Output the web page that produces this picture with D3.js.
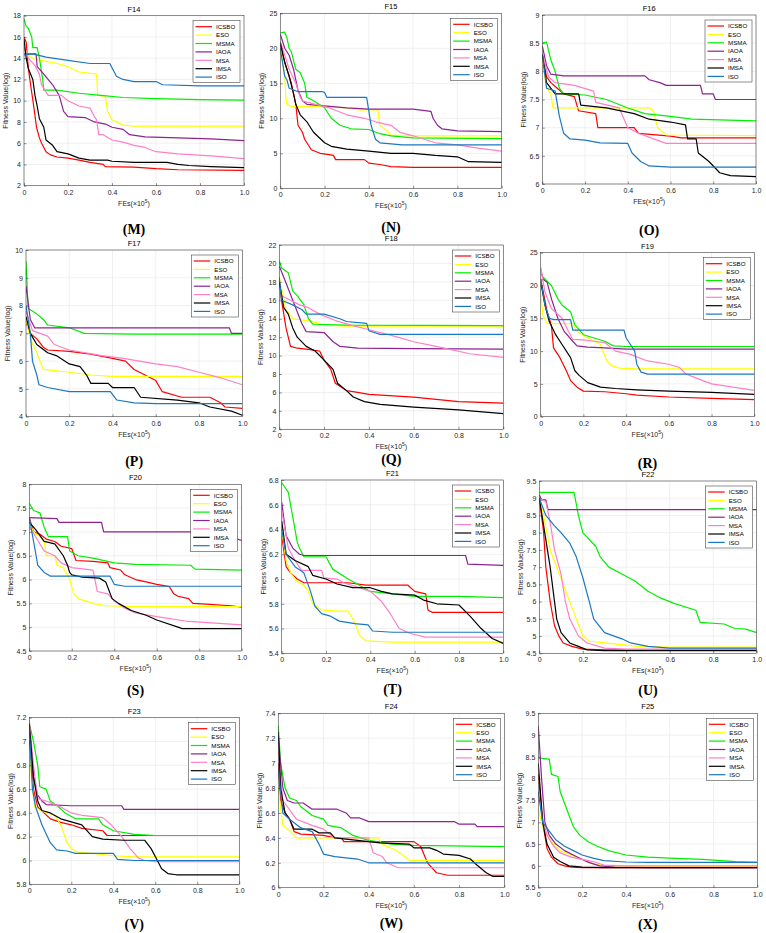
<!DOCTYPE html>
<html><head><meta charset="utf-8">
<script src="https://cdn.jsdelivr.net/npm/d3@7"></script>
<style>body{margin:0;background:#fff}svg{display:block}</style>
</head><body><svg id="c" width="766" height="933"></svg>
<script>
// ---------- DATA ----------
const algorithms = ["ICSBO","ESO","MSMA","IAOA","MSA","IMSA","ISO"];
const colors = ["#ff0000","#ffff00","#00ee00","#8b2391","#ff7fc6","#000000","#1a78c2"];
const xTickValues = [0,0.2,0.4,0.6,0.8,1.0];
const xTickLabels = ["0","0.2","0.4","0.6","0.8","1.0"];
const functionNames = ["F14","F15","F16","F17","F18","F19","F20","F21","F22","F23","F24","F25"];
const panelLetters = ["(M)","(N)","(O)","(P)","(Q)","(R)","(S)","(T)","(U)","(V)","(W)","(X)"];
const yTicksF14 = [2,4,6,8,10,12,14,16,18];
const yTicksF15 = [0,5,10,15,20,25];
const yTicksF16 = [6,6.5,7,7.5,8,8.5,9];
const yTicksF17 = [4,5,6,7,8,9,10];
const yTicksF18 = [2,4,6,8,10,12,14,16,18,20,22];
const yTicksF19 = [0,5,10,15,20,25];
const yTicksF20 = [4.5,5,5.5,6,6.5,7,7.5,8];
const yTicksF21 = [5.4,5.6,5.8,6,6.2,6.4,6.6,6.8];
const yTicksF22 = [4.5,5,5.5,6,6.5,7,7.5,8,8.5,9,9.5];
const yTicksF23 = [5.8,6,6.2,6.4,6.6,6.8,7,7.2];
const yTicksF24 = [6,6.2,6.4,6.6,6.8,7,7.2,7.4];
const yTicksF25 = [5.5,6,6.5,7,7.5,8,8.5,9,9.5];

// series order: ICSBO, ESO, MSMA, IAOA, MSA, IMSA, ISO ; points [FEs(x1e5), value]
const F14 = [
 [[0,16],[0.01,15.5],[0.02,13],[0.03,11.5],[0.042,9.8],[0.057,7.5],[0.07,6.5],[0.08,6],[0.1,5.2],[0.12,4.9],[0.15,4.7],[0.2,4.6],[0.25,4.4],[0.3,4.2],[0.36,4.0],[0.37,3.8],[0.5,3.75],[0.6,3.6],[0.7,3.5],[1,3.45]],
 [[0,15],[0.02,14.2],[0.05,13.9],[0.1,13.7],[0.15,13.5],[0.2,13.2],[0.25,12.7],[0.33,12.5],[0.335,10.5],[0.37,10.4],[0.38,9],[0.4,8.2],[0.45,7.7],[0.5,7.6],[1,7.6]],
 [[0,17.7],[0.01,17],[0.02,16.8],[0.035,16],[0.04,15],[0.06,15],[0.07,14],[0.085,12],[0.09,11],[0.15,11],[0.25,10.7],[0.35,10.5],[0.45,10.3],[0.6,10.2],[0.8,10.1],[1,10.05]],
 [[0,14.4],[0.055,14.4],[0.06,13.2],[0.09,12.5],[0.13,11.5],[0.16,10.5],[0.18,9],[0.2,8.5],[0.28,8.4],[0.32,8.0],[0.37,7.8],[0.4,7.5],[0.45,7.3],[0.48,6.8],[0.55,6.6],[0.7,6.5],[0.85,6.4],[1,6.25]],
 [[0,15],[0.02,14],[0.05,13.3],[0.07,12.5],[0.08,11.5],[0.11,10.5],[0.17,10.5],[0.2,10],[0.25,9.5],[0.3,9.3],[0.32,8.5],[0.33,8.2],[0.34,6.8],[0.36,6.8],[0.4,6.3],[0.45,6.1],[0.5,5.8],[0.55,5.6],[0.6,5.2],[0.7,5.0],[0.85,4.8],[1,4.55]],
 [[0,15.8],[0.01,14],[0.02,13],[0.04,12],[0.05,10.5],[0.06,9.5],[0.07,8.3],[0.09,7.5],[0.1,6.3],[0.13,5.8],[0.15,5.2],[0.2,5.0],[0.25,4.6],[0.3,4.4],[0.38,4.4],[0.4,4.3],[0.5,4.2],[0.65,4.2],[0.7,4.0],[0.75,3.9],[0.85,3.8],[1,3.7]],
 [[0,14.3],[0.04,14.4],[0.1,14.1],[0.2,13.8],[0.3,13.5],[0.39,13.5],[0.42,12.3],[0.45,12],[0.5,11.8],[0.6,11.8],[0.63,11.5],[0.8,11.4],[1,11.4]]
];
const F15 = [
 [[0,20.5],[0.02,18],[0.05,15],[0.07,12],[0.08,9],[0.1,8],[0.11,7],[0.14,5.5],[0.18,5],[0.22,4.8],[0.24,4.7],[0.25,4.1],[0.38,4.1],[0.4,3.6],[0.45,3.4],[0.5,3.1],[0.6,3.0],[1,3.0]],
 [[0,20],[0.02,16],[0.025,13],[0.03,12],[0.05,11.7],[0.2,11.7],[0.3,11.5],[0.35,11.2],[0.44,11.2],[0.45,9],[0.48,8.2],[0.5,7.6],[0.6,7.5],[1,7.5]],
 [[0,22.2],[0.02,22.3],[0.03,21.5],[0.04,20],[0.05,19.5],[0.07,17],[0.09,16.5],[0.11,15],[0.12,13],[0.15,12.5],[0.2,11.5],[0.23,10],[0.27,9],[0.32,8.5],[0.4,8.4],[0.45,7.8],[0.5,7.5],[0.6,7.2],[1,7.1]],
 [[0,22],[0.02,20],[0.04,19],[0.06,17],[0.08,14],[0.1,12.5],[0.12,12],[0.3,11.5],[0.4,11.3],[0.6,11.3],[0.68,11],[0.69,10],[0.71,9],[0.73,8.5],[0.8,8.2],[1,8.1]],
 [[0,21],[0.02,19],[0.04,17],[0.07,15],[0.09,13],[0.1,12.5],[0.16,12],[0.22,11.5],[0.3,10.5],[0.38,10],[0.43,9.5],[0.5,9],[0.54,8],[0.6,7.5],[0.7,6.5],[0.8,6.2],[0.9,5.7],[1,5.3]],
 [[0,20.8],[0.02,18],[0.04,16],[0.06,13.5],[0.07,12],[0.09,10.5],[0.12,9.5],[0.15,8],[0.2,6.5],[0.23,6],[0.3,5.6],[0.4,5.3],[0.5,5.0],[0.6,5.0],[0.7,4.7],[0.8,4.5],[0.85,3.8],[1,3.7]],
 [[0,20],[0.02,16],[0.03,15.5],[0.04,14.3],[0.08,13.8],[0.19,13.8],[0.2,13.7],[0.21,13],[0.39,13],[0.4,11],[0.41,9],[0.43,7],[0.45,6.5],[0.55,6.2],[1,6.2]]
];
const F16 = [
 [[0,8.3],[0.02,7.9],[0.04,7.8],[0.07,7.7],[0.1,7.6],[0.15,7.55],[0.17,7.3],[0.25,7.25],[0.26,7.0],[0.43,7.0],[0.45,6.9],[0.6,6.85],[0.65,6.82],[1,6.82]],
 [[0,8.2],[0.02,7.7],[0.04,7.6],[0.05,7.35],[0.5,7.35],[0.52,7.3],[0.54,7.0],[0.58,6.87],[1,6.86]],
 [[0,8.5],[0.02,8.52],[0.04,8.2],[0.06,8.0],[0.08,7.7],[0.1,7.6],[0.2,7.58],[0.3,7.5],[0.4,7.35],[0.48,7.25],[0.6,7.2],[0.7,7.15],[1,7.12]],
 [[0,8.45],[0.02,8.1],[0.04,7.95],[0.1,7.92],[0.48,7.92],[0.5,7.85],[0.55,7.8],[0.58,7.75],[0.74,7.75],[0.75,7.6],[0.8,7.6],[0.81,7.5],[1,7.5]],
 [[0,8.3],[0.03,7.9],[0.06,7.8],[0.15,7.75],[0.24,7.65],[0.25,7.45],[0.36,7.35],[0.4,7.0],[0.45,6.9],[0.52,6.8],[0.58,6.72],[1,6.72]],
 [[0,8.3],[0.02,7.8],[0.06,7.6],[0.17,7.6],[0.18,7.4],[0.3,7.35],[0.43,7.25],[0.5,7.15],[0.6,7.1],[0.67,7.05],[0.68,6.8],[0.72,6.8],[0.73,6.55],[0.78,6.4],[0.83,6.2],[0.88,6.15],[1,6.13]],
 [[0,8.3],[0.02,7.7],[0.06,7.65],[0.08,7.2],[0.1,6.9],[0.13,6.8],[0.2,6.78],[0.27,6.73],[0.4,6.72],[0.42,6.55],[0.46,6.4],[0.5,6.32],[0.6,6.3],[1,6.3]]
];
const F17 = [
 [[0,7.4],[0.02,7.0],[0.05,6.8],[0.08,6.5],[0.1,6.4],[0.2,6.35],[0.3,6.25],[0.4,6.1],[0.46,6.0],[0.5,5.7],[0.55,5.5],[0.6,5.3],[0.63,4.9],[0.72,4.7],[0.85,4.7],[0.9,4.5],[0.92,4.35],[1,4.3]],
 [[0,7.5],[0.02,6.8],[0.05,6.3],[0.08,5.7],[0.2,5.6],[0.3,5.5],[0.4,5.45],[1,5.45]],
 [[0,9.6],[0.01,7.9],[0.05,7.7],[0.08,7.5],[0.1,7.3],[0.2,7.2],[0.27,7.0],[0.5,6.97],[1,6.97]],
 [[0,8.7],[0.02,7.5],[0.04,7.2],[0.94,7.2],[0.95,7.0],[1,7.0]],
 [[0,7.8],[0.03,7.1],[0.1,6.9],[0.13,6.6],[0.2,6.4],[0.35,6.2],[0.45,6.1],[0.6,5.9],[0.7,5.8],[0.8,5.6],[0.9,5.4],[1,5.15]],
 [[0,7.6],[0.02,7.0],[0.05,6.6],[0.1,6.3],[0.14,6.2],[0.2,5.9],[0.25,5.8],[0.28,5.5],[0.3,5.2],[0.38,5.2],[0.4,5.05],[0.5,5.05],[0.53,4.7],[0.7,4.6],[0.8,4.5],[0.85,4.35],[0.95,4.2],[1,4.05]],
 [[0,8.0],[0.02,7.0],[0.03,6.0],[0.05,5.5],[0.06,5.15],[0.1,5.05],[0.2,4.9],[0.39,4.9],[0.42,4.6],[0.5,4.5],[0.6,4.47],[1,4.47]]
];
const F18 = [
 [[0,18],[0.01,16],[0.03,13],[0.05,11],[0.08,10.8],[0.12,10.7],[0.18,10.5],[0.2,9.5],[0.23,8.5],[0.25,7],[0.3,6.2],[0.35,6],[0.4,5.8],[0.6,5.5],[0.8,5.0],[1,4.85]],
 [[0,18.5],[0.03,15],[0.06,14],[0.12,13.8],[0.18,13.5],[0.2,13.3],[0.3,13.2],[1,13.2]],
 [[0,20.3],[0.01,19.5],[0.04,19],[0.06,17],[0.08,16.5],[0.11,15.5],[0.13,14],[0.15,13.4],[0.3,13.3],[1,13.25]],
 [[0,19.7],[0.02,18.5],[0.06,16],[0.1,13.5],[0.12,12.6],[0.2,12.5],[0.24,11.5],[0.27,11],[0.35,10.8],[0.6,10.75],[1,10.7]],
 [[0,18],[0.01,16.5],[0.05,16],[0.09,15.5],[0.13,15.2],[0.18,14.5],[0.25,13.8],[0.32,13.3],[0.4,12.8],[0.5,12.2],[0.6,11.5],[0.7,11],[0.85,10.2],[1,9.8]],
 [[0,18],[0.02,15.2],[0.04,14.5],[0.06,13],[0.08,12],[0.12,11],[0.16,10.5],[0.2,9.5],[0.24,8.5],[0.26,7],[0.3,6.2],[0.33,5.5],[0.38,5],[0.45,4.7],[0.6,4.4],[0.8,4.1],[1,3.7]],
 [[0,18.5],[0.01,16],[0.06,15.5],[0.1,15],[0.12,14.5],[0.2,14.5],[0.27,14],[0.3,13.7],[0.39,13.5],[0.4,12.7],[0.45,12.3],[1,12.3]]
];
const F19 = [
 [[0,21],[0.03,16],[0.05,14],[0.06,10.5],[0.09,9],[0.12,7],[0.14,5.5],[0.17,4.5],[0.2,3.9],[0.3,3.8],[0.4,3.5],[0.45,3.3],[0.6,3.0],[0.8,2.8],[1,2.6]],
 [[0,19],[0.01,15.5],[0.03,14.2],[0.15,14.2],[0.17,13],[0.22,12],[0.28,11],[0.29,10],[0.31,8.5],[0.33,7.8],[0.37,7.4],[0.45,7.3],[1,7.3]],
 [[0,20],[0.01,21.3],[0.05,20],[0.08,18],[0.1,17],[0.14,16],[0.16,14],[0.2,12.5],[0.25,12],[0.3,11.5],[0.34,10.8],[0.4,10.7],[1,10.7]],
 [[0,22.5],[0.01,21],[0.03,20.5],[0.05,18],[0.08,15],[0.11,13],[0.15,11.5],[0.17,10.8],[0.22,10.6],[0.3,10.5],[0.4,10.3],[1,10.3]],
 [[0,22.8],[0.02,19],[0.05,16.5],[0.1,15],[0.13,13],[0.15,11.8],[0.2,11.7],[0.25,11.5],[0.3,11.3],[0.35,10],[0.42,9.5],[0.5,8.5],[0.6,8],[0.65,7.5],[0.68,6.5],[0.72,6],[0.8,5],[0.9,4.5],[1,4]],
 [[0,20.5],[0.02,17],[0.04,14.5],[0.07,12.5],[0.1,11],[0.14,9],[0.16,7],[0.18,6.3],[0.22,5.2],[0.28,4.5],[0.35,4.3],[0.45,4.1],[0.6,3.9],[0.8,3.7],[1,3.4]],
 [[0,21],[0.02,17],[0.04,15],[0.06,14.8],[0.14,14.8],[0.15,13.2],[0.39,13.2],[0.4,12],[0.42,11],[0.44,10],[0.45,8],[0.47,6.8],[0.5,6.5],[1,6.5]]
];
const F20 = [
 [[0,7.3],[0.02,7.0],[0.05,6.95],[0.08,6.85],[0.12,6.8],[0.15,6.7],[0.2,6.65],[0.22,6.4],[0.3,6.38],[0.37,6.35],[0.38,6.25],[0.43,6.2],[0.45,6.1],[0.5,6.0],[0.55,5.95],[0.6,5.9],[0.66,5.85],[0.68,5.7],[0.7,5.65],[0.75,5.6],[0.77,5.5],[0.85,5.48],[0.95,5.45],[1,5.42]],
 [[0,7.2],[0.02,7.0],[0.05,6.9],[0.07,6.8],[0.08,6.5],[0.12,6.5],[0.13,6.3],[0.16,6.25],[0.19,6.0],[0.21,5.7],[0.23,5.6],[0.3,5.5],[0.36,5.45],[0.5,5.43],[1,5.43]],
 [[0,7.6],[0.02,7.45],[0.05,7.4],[0.07,7.1],[0.09,6.9],[0.18,6.9],[0.19,6.6],[0.23,6.5],[0.3,6.45],[0.4,6.35],[0.5,6.32],[0.76,6.3],[0.78,6.22],[1,6.2]],
 [[0,7.3],[0.13,7.28],[0.14,7.2],[0.34,7.2],[0.35,7.0],[0.97,7.0],[0.98,6.85],[1,6.82]],
 [[0,7.1],[0.03,6.9],[0.07,6.6],[0.12,6.5],[0.15,6.35],[0.2,6.25],[0.3,6.2],[0.32,5.75],[0.37,5.7],[0.4,5.55],[0.45,5.4],[0.5,5.3],[0.6,5.22],[0.75,5.12],[1,5.05]],
 [[0,7.2],[0.03,7.05],[0.07,6.8],[0.12,6.75],[0.16,6.5],[0.18,6.3],[0.19,6.15],[0.2,6.1],[0.25,6.05],[0.33,6.03],[0.36,5.95],[0.39,5.6],[0.42,5.5],[0.48,5.35],[0.55,5.25],[0.6,5.15],[0.7,5.0],[0.72,4.97],[1,4.97]],
 [[0,7.3],[0.02,6.8],[0.04,6.3],[0.07,6.15],[0.1,6.07],[0.38,6.07],[0.4,5.9],[0.45,5.86],[1,5.86]]
];
const F21 = [
 [[0,6.35],[0.02,6.1],[0.04,6.05],[0.07,6.0],[0.1,5.97],[0.3,5.97],[0.38,5.95],[0.57,5.95],[0.6,5.9],[0.65,5.88],[0.66,5.75],[0.68,5.73],[1,5.73]],
 [[0,6.4],[0.02,6.15],[0.04,6.05],[0.07,5.98],[0.1,5.95],[0.12,5.9],[0.14,5.8],[0.18,5.75],[0.25,5.74],[0.3,5.74],[0.33,5.65],[0.35,5.55],[0.38,5.5],[0.5,5.49],[1,5.49]],
 [[0,6.78],[0.03,6.7],[0.05,6.5],[0.07,6.3],[0.08,6.25],[0.1,6.18],[0.2,6.18],[0.23,6.08],[0.3,6.0],[0.35,5.95],[0.4,5.9],[0.5,5.88],[0.6,5.86],[0.8,5.86],[1,5.85]],
 [[0,6.62],[0.02,6.35],[0.05,6.25],[0.08,6.2],[0.1,6.19],[0.83,6.19],[0.84,6.12],[1,6.11]],
 [[0,6.55],[0.03,6.25],[0.06,6.15],[0.09,6.07],[0.18,6.07],[0.19,6.01],[0.25,6.0],[0.28,5.97],[0.35,5.93],[0.4,5.9],[0.45,5.82],[0.49,5.72],[0.53,5.6],[0.58,5.56],[0.65,5.53],[1,5.53]],
 [[0,6.47],[0.02,6.2],[0.06,6.15],[0.12,6.1],[0.14,6.03],[0.2,6.0],[0.25,5.96],[0.32,5.93],[0.4,5.93],[0.45,5.9],[0.5,5.88],[0.6,5.87],[0.64,5.83],[0.7,5.8],[0.8,5.79],[0.85,5.7],[0.9,5.6],[0.95,5.52],[1,5.48]],
 [[0,6.4],[0.02,6.2],[0.06,6.1],[0.1,6.05],[0.13,5.9],[0.15,5.78],[0.18,5.72],[0.22,5.7],[0.26,5.66],[0.33,5.64],[0.39,5.63],[0.41,5.58],[0.5,5.57],[1,5.57]]
];
const F22 = [
 [[0,9.0],[0.02,8.0],[0.03,7.0],[0.05,6.0],[0.07,5.3],[0.09,5.0],[0.11,4.8],[0.15,4.7],[0.2,4.62],[0.3,4.6],[1,4.6]],
 [[0,9.1],[0.02,8.5],[0.05,7.5],[0.08,7.0],[0.11,6.5],[0.14,6.0],[0.17,5.5],[0.2,5.0],[0.23,4.85],[0.3,4.8],[0.38,4.75],[0.45,4.7],[0.6,4.68],[1,4.68]],
 [[0,9.17],[0.16,9.17],[0.18,8.5],[0.2,8.0],[0.26,7.6],[0.28,7.3],[0.32,7.0],[0.38,6.8],[0.44,6.6],[0.5,6.3],[0.56,6.1],[0.62,5.95],[0.72,5.75],[0.74,5.4],[0.85,5.35],[0.9,5.22],[0.95,5.2],[1,5.1]],
 [[0,9.1],[0.01,8.95],[0.03,8.95],[0.04,8.67],[1,8.67]],
 [[0,9.0],[0.03,8.9],[0.05,8.3],[0.07,7.5],[0.1,6.8],[0.12,6.0],[0.14,5.5],[0.18,5.0],[0.22,4.8],[0.3,4.65],[0.4,4.62],[1,4.62]],
 [[0,9.0],[0.03,7.8],[0.05,7.0],[0.07,6.0],[0.08,5.5],[0.1,5.1],[0.14,4.8],[0.18,4.7],[0.22,4.6],[0.3,4.58],[1,4.58]],
 [[0,9.0],[0.03,8.5],[0.07,8.2],[0.1,8.0],[0.14,7.7],[0.17,7.3],[0.2,6.7],[0.23,6.0],[0.25,5.5],[0.3,5.1],[0.38,4.92],[0.42,4.8],[0.5,4.7],[0.6,4.65],[1,4.65]]
];
const F23 = [
 [[0,7.1],[0.02,6.6],[0.04,6.45],[0.07,6.4],[0.1,6.35],[0.15,6.32],[0.2,6.3],[0.25,6.27],[0.35,6.25],[0.37,6.21],[1,6.21]],
 [[0,7.0],[0.01,6.7],[0.025,6.45],[0.03,6.45],[0.05,6.42],[0.12,6.38],[0.15,6.3],[0.18,6.15],[0.2,6.1],[0.23,6.07],[0.3,6.06],[0.4,6.04],[0.5,6.03],[1,6.03]],
 [[0,7.15],[0.02,7.0],[0.04,6.8],[0.05,6.62],[0.08,6.6],[0.1,6.5],[0.14,6.45],[0.17,6.4],[0.22,6.35],[0.33,6.35],[0.35,6.3],[0.4,6.25],[0.5,6.22],[0.6,6.21],[1,6.21]],
 [[0,7.0],[0.02,6.7],[0.04,6.55],[0.06,6.5],[0.08,6.47],[0.2,6.46],[0.44,6.46],[0.45,6.43],[1,6.43]],
 [[0,7.18],[0.02,6.8],[0.04,6.52],[0.08,6.5],[0.15,6.45],[0.2,6.4],[0.25,6.38],[0.35,6.36],[0.39,6.3],[0.44,6.2],[0.48,6.1],[0.52,6.02],[0.55,6.0],[0.6,5.99],[1,5.99]],
 [[0,7.15],[0.02,6.7],[0.04,6.5],[0.06,6.42],[0.1,6.4],[0.15,6.35],[0.25,6.3],[0.3,6.2],[0.35,6.18],[0.45,6.17],[0.55,6.17],[0.58,6.1],[0.61,6.0],[0.63,5.93],[0.66,5.89],[0.7,5.88],[1,5.88]],
 [[0,7.1],[0.015,6.6],[0.03,6.45],[0.06,6.3],[0.1,6.15],[0.13,6.09],[0.18,6.08],[0.22,6.06],[0.4,6.06],[0.42,6.01],[0.5,6.0],[1,6.0]]
];
const F24 = [
 [[0,7.0],[0.01,6.7],[0.03,6.6],[0.05,6.55],[0.07,6.45],[0.1,6.43],[0.2,6.42],[0.25,6.4],[0.28,6.4],[0.29,6.37],[0.4,6.37],[0.6,6.37],[0.63,6.33],[0.66,6.2],[0.7,6.12],[0.75,6.1],[1,6.1]],
 [[0,6.8],[0.02,6.5],[0.05,6.46],[0.08,6.4],[0.3,6.4],[0.44,6.4],[0.46,6.35],[0.52,6.3],[0.56,6.25],[0.58,6.22],[1,6.22]],
 [[0,7.3],[0.01,7.0],[0.03,6.8],[0.05,6.72],[0.08,6.7],[0.1,6.65],[0.15,6.58],[0.2,6.55],[0.22,6.5],[0.28,6.48],[0.33,6.42],[0.4,6.38],[0.5,6.35],[0.6,6.34],[1,6.33]],
 [[0,7.2],[0.02,6.8],[0.04,6.7],[0.07,6.68],[0.11,6.68],[0.15,6.63],[0.26,6.63],[0.3,6.6],[0.32,6.56],[0.36,6.56],[0.4,6.53],[0.78,6.53],[0.8,6.51],[0.87,6.51],[0.88,6.49],[1,6.49]],
 [[0,7.1],[0.02,6.7],[0.06,6.6],[0.08,6.55],[0.15,6.5],[0.2,6.47],[0.25,6.4],[0.4,6.4],[0.42,6.28],[0.46,6.25],[0.48,6.2],[0.53,6.16],[1,6.16]],
 [[0,7.25],[0.01,6.8],[0.03,6.6],[0.05,6.55],[0.07,6.47],[0.15,6.47],[0.18,6.44],[0.23,6.44],[0.25,6.4],[0.35,6.38],[0.45,6.36],[0.58,6.35],[0.6,6.32],[0.67,6.32],[0.7,6.3],[0.73,6.27],[0.8,6.26],[0.85,6.23],[0.88,6.18],[0.92,6.12],[0.95,6.09],[1,6.09]],
 [[0,6.95],[0.02,6.6],[0.05,6.55],[0.1,6.48],[0.15,6.45],[0.18,6.35],[0.2,6.27],[0.25,6.25],[0.3,6.24],[0.35,6.23],[0.4,6.2],[1,6.2]]
];
const F25 = [
 [[0,8.1],[0.02,7.0],[0.04,6.4],[0.06,6.2],[0.09,6.05],[0.12,6.0],[0.15,5.97],[0.2,5.96],[1,5.96]],
 [[0,7.3],[0.02,6.9],[0.04,6.7],[0.07,6.5],[0.1,6.35],[0.15,6.25],[0.2,6.15],[0.25,6.05],[0.3,6.0],[0.5,5.99],[1,5.99]],
 [[0,8.47],[0.05,8.45],[0.06,8.1],[0.09,8.05],[0.1,7.7],[0.13,7.3],[0.16,6.9],[0.19,6.7],[0.23,6.55],[0.27,6.45],[0.32,6.35],[0.4,6.25],[0.5,6.2],[0.6,6.18],[0.75,6.15],[0.9,6.1],[1,6.08]],
 [[0,9.2],[0.015,8.0],[0.03,7.0],[0.05,6.7],[0.08,6.5],[0.12,6.35],[0.18,6.2],[0.23,6.08],[0.28,6.0],[0.35,5.97],[0.5,5.96],[1,5.96]],
 [[0,7.7],[0.02,7.1],[0.04,6.7],[0.07,6.45],[0.1,6.3],[0.15,6.2],[0.2,6.15],[0.25,6.1],[0.3,6.02],[0.4,6.0],[1,6.0]],
 [[0,8.35],[0.02,7.0],[0.04,6.5],[0.07,6.2],[0.1,6.1],[0.14,6.0],[0.2,5.97],[0.3,5.96],[1,5.96]],
 [[0,7.7],[0.02,7.0],[0.05,6.8],[0.08,6.6],[0.12,6.45],[0.16,6.35],[0.2,6.25],[0.25,6.18],[0.3,6.12],[0.4,6.09],[0.5,6.08],[1,6.08]]
];

// ---------- LAYOUT ----------
const panelSeries = [F14,F15,F16,F17,F18,F19,F20,F21,F22,F23,F24,F25];
const panelYTicks = [yTicksF14,yTicksF15,yTicksF16,yTicksF17,yTicksF18,yTicksF19,yTicksF20,yTicksF21,yTicksF22,yTicksF23,yTicksF24,yTicksF25];
// plot rectangles [left, top, right, bottom] and letter label y
const rects = [
 [24,15.7,244,185.7],[280.3,13.3,501.7,188.3],[542.3,15,756,184],
 [26,250,242.3,416.7],[279.3,245,503.3,429.3],[540.7,252.7,754.3,416.7],
 [29.3,484.3,241.7,651],[281.7,480,503.3,653.3],[539.3,481,756.7,653.3],
 [29.3,717.7,239.3,884.3],[278.3,713.3,504.3,887.7],[538.3,713.3,757.3,887.7]
];
const letterY = [229,227,230,461,459,463,690,689,690,924,923,924];

const svg = d3.select("#c");
const font = "Liberation Sans, Arial, sans-serif";
const axisColor = "#262626";

panelSeries.forEach((series, i) => {
  const [l,t,r,b] = rects[i];
  const yt = panelYTicks[i];
  const x = d3.scaleLinear().domain([0,1]).range([l,r]);
  const y = d3.scaleLinear().domain([yt[0], yt[yt.length-1]]).range([b,t]);
  const g = svg.append("g");

  // grid
  g.append("g").selectAll("line").data(xTickValues).join("line")
    .attr("x1",d=>x(d)).attr("x2",d=>x(d)).attr("y1",t).attr("y2",b)
    .attr("stroke","#e6e6e6").attr("stroke-width",0.6);
  g.append("g").selectAll("line").data(yt).join("line")
    .attr("y1",d=>y(d)).attr("y2",d=>y(d)).attr("x1",l).attr("x2",r)
    .attr("stroke","#e6e6e6").attr("stroke-width",0.6);

  // lines
  const clipId = "clip"+i;
  g.append("clipPath").attr("id",clipId).append("rect")
    .attr("x",l).attr("y",t).attr("width",r-l).attr("height",b-t);
  const line = d3.line().x(d=>x(d[0])).y(d=>y(d[1]));
  const lg = g.append("g").attr("clip-path",`url(#${clipId})`);
  series.forEach((s,k)=>{
    lg.append("path").attr("d",line(s)).attr("fill","none")
      .attr("stroke",colors[k]).attr("stroke-width",1.2).attr("stroke-linejoin","round");
  });

  // axes with d3 axis (inner ticks)
  const xAxis = d3.axisBottom(x).tickValues(xTickValues).tickFormat((d,j)=>xTickLabels[j]).tickSize(-2.5).tickPadding(4);
  const yAxis = d3.axisLeft(y).tickValues(yt).tickFormat(d=>String(+d.toFixed(2))).tickSize(-2.5).tickPadding(3);
  const xa = g.append("g").attr("transform",`translate(0,${b})`).call(xAxis);
  const ya = g.append("g").attr("transform",`translate(${l},0)`).call(yAxis);
  [xa,ya].forEach(a=>{
    a.select(".domain").remove();
    a.selectAll("line").attr("stroke",axisColor).attr("stroke-width",0.5);
    a.selectAll("text").attr("fill",axisColor).style("font-family",font).style("font-size","7px");
  });
  // box
  g.append("rect").attr("x",l).attr("y",t).attr("width",r-l).attr("height",b-t)
    .attr("fill","none").attr("stroke",axisColor).attr("stroke-width",0.5);

  // title
  g.append("text").attr("x",(l+r)/2).attr("y",t-4).attr("text-anchor","middle")
    .style("font-family",font).style("font-size","7.5px").attr("fill","#000").text(functionNames[i]);
  // x label
  const xl = g.append("text").attr("x",(l+r)/2).attr("y",b+20).attr("text-anchor","middle")
    .style("font-family",font).style("font-size","7px").attr("fill",axisColor);
  xl.append("tspan").text("FEs(\u00d710");
  xl.append("tspan").attr("dy",-3).style("font-size","5px").text("5");
  xl.append("tspan").attr("dy",3).text(")");
  // y label
  g.append("text").attr("transform",`translate(${l-16},${(t+b)/2}) rotate(-90)`)
    .attr("text-anchor","middle").style("font-family",font).style("font-size","7px")
    .attr("fill",axisColor).text("Fitness Value(log)");
  // panel letter
  g.append("text").attr("x",(l+r)/2).attr("y",letterY[i]+5).attr("text-anchor","middle")
    .style("font-family","Liberation Serif, Times New Roman, serif").style("font-weight","bold")
    .style("font-size","14px").attr("fill","#000").text(panelLetters[i]);

  // legend
  const lw = 47, lh = 62, lx = r - 4 - lw, ly = t + 5;
  const leg = g.append("g");
  leg.append("rect").attr("x",lx).attr("y",ly).attr("width",lw).attr("height",lh)
    .attr("fill","#fff").attr("stroke",axisColor).attr("stroke-width",0.5);
  algorithms.forEach((name,k)=>{
    const yy = ly + 6 + k*8.4;
    leg.append("line").attr("x1",lx+2.5).attr("x2",lx+19).attr("y1",yy).attr("y2",yy)
      .attr("stroke",colors[k]).attr("stroke-width",1.2);
    leg.append("text").attr("x",lx+23).attr("y",yy+2.2)
      .style("font-family",font).style("font-size","6.2px").attr("fill","#000").text(name);
  });
});
</script></body></html>
